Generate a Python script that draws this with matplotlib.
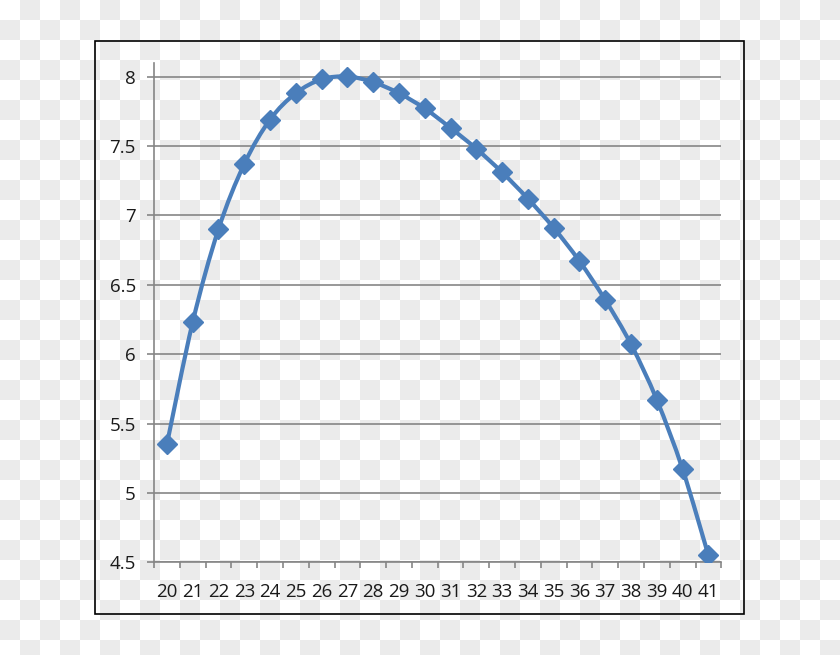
import numpy as np
import matplotlib
matplotlib.use("Agg")
import matplotlib.pyplot as plt
from matplotlib.path import Path
from matplotlib.patches import PathPatch, Rectangle

categories = [str(c) for c in range(20, 42)]
values = [5.35, 6.23, 6.90, 7.37, 7.69, 7.88, 7.98, 8.00, 7.96, 7.88, 7.77,
          7.63, 7.48, 7.31, 7.12, 6.91, 6.67, 6.39, 6.07, 5.67, 5.17, 4.55]
y_ticks = [4.5, 5, 5.5, 6, 6.5, 7, 7.5, 8]
y_tick_labels = ["4.5", "5", "5.5", "6", "6.5", "7", "7.5", "8"]

W, H = 840, 655
fig = plt.figure(figsize=(W / 100, H / 100), dpi=100)

# transparency-style checkerboard background
yy, xx = np.mgrid[0:H, 0:W]
chk = ((xx // 20 + yy // 20) % 2).astype(float)
img = np.ones((H, W, 3))
img[chk == 1] = np.array([235, 235, 235]) / 255.0
fig.figimage(img, xo=0, yo=0, origin='upper', zorder=-10)
fig.patch.set_alpha(0)

# chart border
fig.patches.append(Rectangle((95 / W, 1 - 614 / H), (744 - 95) / W, (614 - 41) / H,
                             transform=fig.transFigure, fill=False,
                             edgecolor='black', linewidth=1.2, zorder=5))

ax = fig.add_axes([154 / W, 1 - 562.3 / H, (721.3 - 154) / W, (562.3 - 62.7) / H])
ax.patch.set_alpha(0)

n = len(values)
x = np.arange(n)
ax.set_xlim(-0.5, n - 0.5)
ax.set_ylim(4.5, 8.1)

gray = '#868686'
for t in y_ticks:
    ax.axhline(t, color=gray, linewidth=1.2, zorder=1)

# smoothed line (Excel-like Catmull-Rom bezier)
pts = np.column_stack([x, values]).astype(float)
verts = [pts[0]]
codes = [Path.MOVETO]
for i in range(n - 1):
    p0 = pts[i - 1] if i > 0 else pts[i]
    p1 = pts[i]
    p2 = pts[i + 1]
    p3 = pts[i + 2] if i + 2 < n else pts[i + 1]
    c1 = p1 + (p2 - p0) / 6.0
    c2 = p2 - (p3 - p1) / 6.0
    verts += [c1, c2, p2]
    codes += [Path.CURVE4] * 3
color = '#4a7ebb'
ax.add_patch(PathPatch(Path(verts, codes), facecolor='none', edgecolor=color,
                       linewidth=3, zorder=3, capstyle='round', joinstyle='round'))
ax.plot(x, values, linestyle='none', marker='D', markersize=10, color=color,
        markeredgecolor=color, zorder=4)

for s in ['top', 'right']:
    ax.spines[s].set_visible(False)
for s in ['left', 'bottom']:
    ax.spines[s].set_color(gray)
    ax.spines[s].set_linewidth(1.2)

font = 'Open Sans'
txtc = '#1a1a1a'
ax.set_yticks(y_ticks)
ax.set_yticklabels(y_tick_labels, fontfamily=font, fontsize=13.5, color=txtc)
ax.tick_params(axis='y', direction='out', length=5, width=1.2, color=gray, pad=8)

ax.set_xticks(np.arange(n + 1) - 0.5)
ax.set_xticklabels([])
ax.tick_params(axis='x', which='major', direction='out', length=4.5, width=1.2, color=gray)
ax.set_xticks(x, minor=True)
ax.set_xticklabels(categories, minor=True, fontfamily=font, fontsize=13.5, color=txtc)
ax.tick_params(axis='x', which='minor', length=0, pad=15)

fig.savefig('out.png', dpi=100, transparent=False)
